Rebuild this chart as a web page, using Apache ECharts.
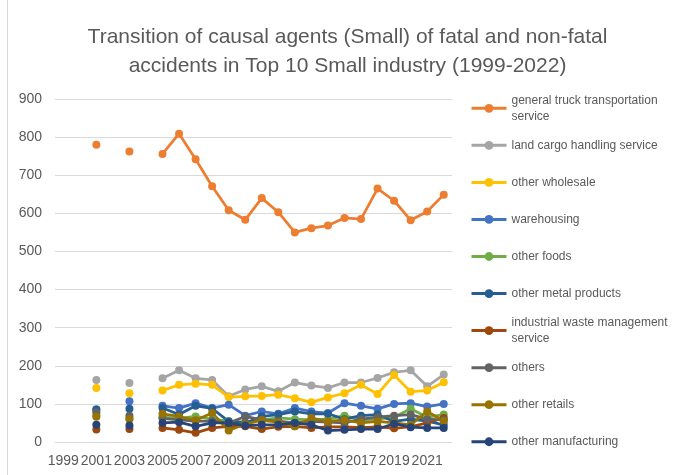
<!DOCTYPE html>
<html>
<head>
<meta charset="utf-8">
<script src="https://cdn.jsdelivr.net/npm/echarts@6/dist/echarts.min.js"></script>
<style>html,body{margin:0;padding:0;background:#fff}#c{width:695px;height:475px}</style>
</head>
<body>
<div id="c"></div>
<script>
const years = ['1999','2000','2001','2002','2003','2004','2005','2006','2007','2008','2009','2010','2011','2012','2013','2014','2015','2016','2017','2018','2019','2020','2021','2022'];
const seriesNames = ['general truck transportation service','land cargo handling service','other wholesale','warehousing','other foods','other metal products','industrial waste management service','others','other retails','other manufacturing'];
const legendLabels = ['general truck transportation\nservice','land cargo handling service','other wholesale','warehousing','other foods','other metal products','industrial waste management\nservice','others','other retails','other manufacturing'];
const truck =         [null,null,780,null,762,null,756,809,742,671,608,583,640,603,550,561,568,588,585,665,633,582,605,649];
const cargo =         [null,null,163,null,155,null,167,188,167,163,120,138,146,133,156,148,142,156,156,168,183,188,146,177];
const wholesale =     [null,null,142,null,128,null,135,150,153,150,118,120,121,124,115,104,117,128,150,126,176,132,135,157];
const warehousing =   [null,null,85,null,107,null,95,89,102,89,98,69,80,74,89,80,76,102,95,87,100,102,93,100];
const foods =         [null,null,70,null,62,null,65,62,67,60,55,52,58,63,60,58,60,69,58,60,65,87,65,72];
const metal =         [null,null,85,null,87,null,89,72,95,88,54,50,67,72,80,74,74,60,69,72,54,60,55,45];
const waste =         [null,null,33,null,34,null,37,32,24,37,41,41,34,40,41,37,40,40,38,40,36,40,50,63];
const others =        [null,null,78,null,69,null,62,58,55,55,50,67,58,55,50,54,52,50,60,65,69,72,60,58];
const retails =       [null,null,66,null,60,null,74,67,57,76,30,47,57,52,41,63,54,58,50,54,50,45,80,55];
const manufacturing = [null,null,45,null,43,null,50,52,41,50,50,43,45,45,50,45,30,32,34,34,48,39,37,37];
const seriesData = [truck,cargo,wholesale,warehousing,foods,metal,waste,others,retails,manufacturing];
const colors = ['#ED7D31','#A5A5A5','#FFC000','#4472C4','#70AD47','#255E91','#9E480E','#636363','#997300','#264478'];

const FONT = 'Liberation Sans';
const TXT = '#595959';
const chart = echarts.init(document.getElementById('c'));

const legends = seriesNames.map((n, i) => {
  const twoLine = legendLabels[i].indexOf('\n') >= 0;
  const center = 108.3 + i * 37.05;
  return {
    orient: 'vertical',
    left: 470,
    top: twoLine ? center - 24 : center - 8,
    itemWidth: 35,
    itemHeight: 11,
    padding: 0,
    selectedMode: false,
    lineStyle: { width: 3 },
    data: [{ name: n, textStyle: twoLine ? { padding: [16, 0, 0, 0] } : {} }],
    formatter: () => legendLabels[i],
    textStyle: { color: TXT, fontFamily: FONT, fontSize: 12, lineHeight: 16 }
  };
});

chart.setOption({
  animation: false,
  color: colors,
  title: {
    text: 'Transition of causal agents (Small) of fatal and non-fatal\naccidents in Top 10 Small industry (1999-2022)',
    left: 'center',
    top: 23,
    padding: [0, 0, 0, 8],
    textStyle: { color: TXT, fontFamily: FONT, fontSize: 21, fontWeight: 'normal', lineHeight: 29 }
  },
  legend: legends,
  grid: { left: 55, right: 243, top: 99, bottom: 33 },
  xAxis: {
    type: 'category',
    data: years,
    boundaryGap: true,
    axisLine: { lineStyle: { color: '#D9D9D9', width: 1 } },
    axisTick: { show: false },
    axisLabel: { interval: 1, hideOverlap: false, color: TXT, fontFamily: FONT, fontSize: 14, margin: 12 }
  },
  yAxis: {
    type: 'value',
    min: 0, max: 900, interval: 100,
    axisLine: { show: false },
    axisTick: { show: false },
    splitLine: { lineStyle: { color: '#D9D9D9', width: 1 } },
    axisLabel: { color: TXT, fontFamily: FONT, fontSize: 14, margin: 13 }
  },
  graphic: [{
    type: 'line', shape: { x1: 7.5, y1: 0, x2: 7.5, y2: 475 },
    style: { stroke: '#D9D9D9', lineWidth: 1 }, silent: true
  }],
  series: seriesNames.map((n, i) => ({
    name: n,
    type: 'line',
    data: seriesData[i],
    symbol: 'circle',
    symbolSize: 8,
    showSymbol: true,
    showAllSymbol: true,
    connectNulls: false,
    lineStyle: { width: 2.75, color: colors[i] },
    itemStyle: { color: colors[i] },
    emphasis: { disabled: true }
  }))
});
</script>
</body>
</html>
